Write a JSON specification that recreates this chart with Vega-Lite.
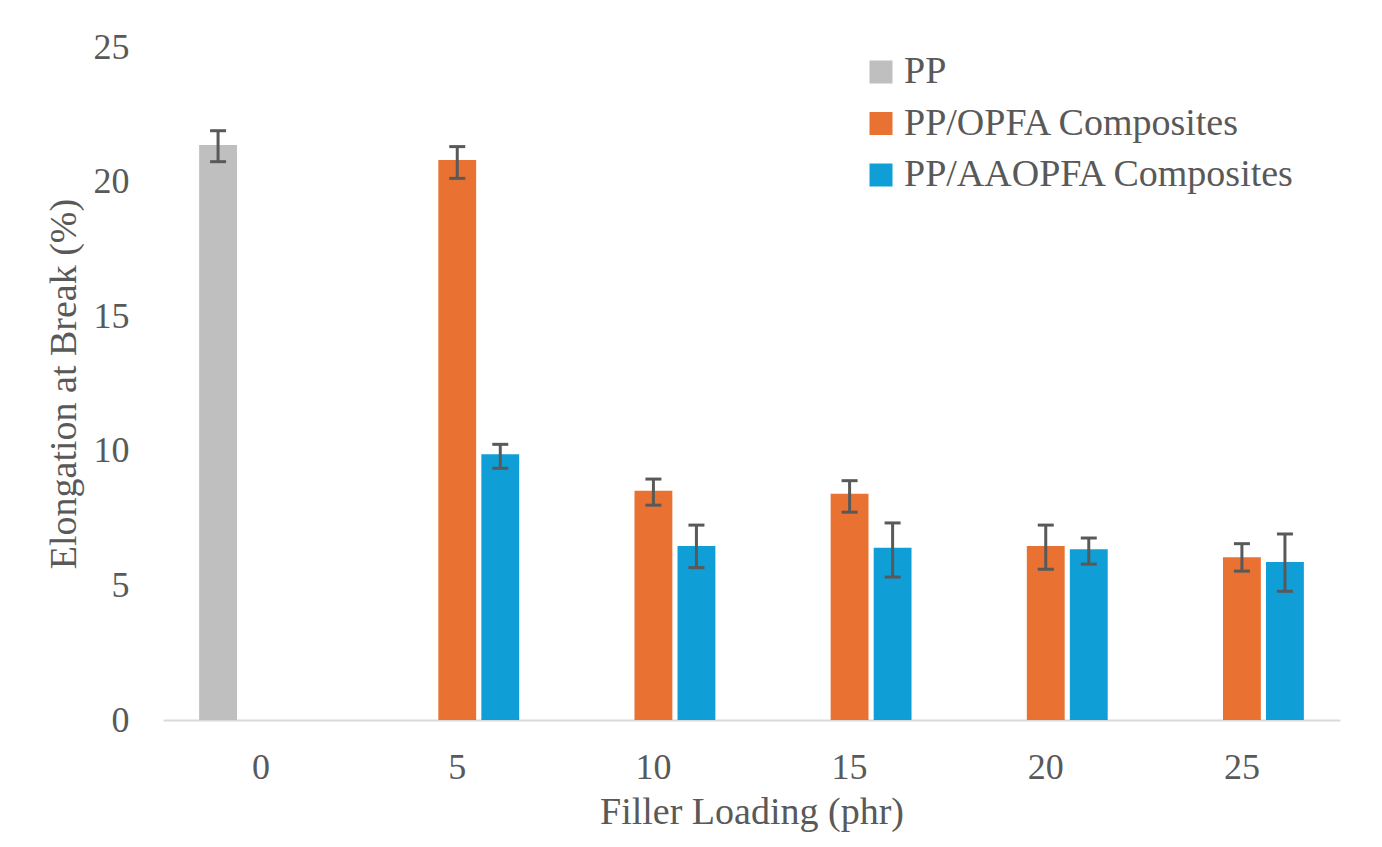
{
  "$schema": "https://vega.github.io/schema/vega-lite/v6.json",
  "width": 1177,
  "height": 673,
  "autosize": {"type": "none"},
  "padding": {"left": 163, "top": 47, "right": 42, "bottom": 127},
  "background": "white",
  "config": {
    "view": {"stroke": null},
    "font": "Liberation Serif",
    "axis": {"labelFont": "Liberation Serif", "titleFont": "Liberation Serif", "labelColor": "#595959", "titleColor": "#595959", "titleFontWeight": "normal"},
    "legend": {"labelFont": "Liberation Serif", "labelColor": "#595959"}
  },
  "data": {
    "values": [
      {"load": "0", "series": "PP", "value": 21.36, "low": 20.74, "high": 21.89},
      {"load": "5", "series": "PP/OPFA Composites", "value": 20.8, "low": 20.12, "high": 21.3},
      {"load": "5", "series": "PP/AAOPFA Composites", "value": 9.87, "low": 9.35, "high": 10.24},
      {"load": "10", "series": "PP/OPFA Composites", "value": 8.52, "low": 7.98, "high": 8.95},
      {"load": "10", "series": "PP/AAOPFA Composites", "value": 6.46, "low": 5.66, "high": 7.24},
      {"load": "15", "series": "PP/OPFA Composites", "value": 8.4, "low": 7.72, "high": 8.89},
      {"load": "15", "series": "PP/AAOPFA Composites", "value": 6.4, "low": 5.31, "high": 7.32},
      {"load": "20", "series": "PP/OPFA Composites", "value": 6.46, "low": 5.6, "high": 7.24},
      {"load": "20", "series": "PP/AAOPFA Composites", "value": 6.34, "low": 5.79, "high": 6.76},
      {"load": "25", "series": "PP/OPFA Composites", "value": 6.05, "low": 5.53, "high": 6.55},
      {"load": "25", "series": "PP/AAOPFA Composites", "value": 5.87, "low": 4.78, "high": 6.91}
    ]
  },
  "encoding": {
    "x": {
      "field": "load", "type": "nominal",
      "sort": ["0", "5", "10", "15", "20", "25"],
      "scale": {"domain": ["0", "5", "10", "15", "20", "25"], "paddingInner": 0, "paddingOuter": 0},
      "axis": {
        "title": "Filler Loading (phr)", "labelAngle": 0, "labelFontSize": 36, "titleFontSize": 38,
        "ticks": false, "domainColor": "#d9d9d9", "domainWidth": 2, "labelPadding": 30, "titlePadding": 8
      }
    },
    "xOffset": {
      "field": "series", "type": "nominal",
      "scale": {"domain": ["PP", "PP/OPFA Composites", "PP/AAOPFA Composites"], "paddingInner": 0.12, "paddingOuter": 0.84}
    }
  },
  "layer": [
    {
      "mark": {"type": "bar"},
      "encoding": {
        "y": {
          "field": "value", "type": "quantitative",
          "scale": {"domain": [0, 25], "nice": false},
          "axis": {
            "title": "Elongation at Break (%)", "values": [0, 5, 10, 15, 20, 25], "grid": false, "domain": false, "ticks": false,
            "labelFontSize": 36, "titleFontSize": 38, "labelPadding": 34, "titlePadding": 10
          }
        },
        "color": {
          "field": "series", "type": "nominal",
          "scale": {"domain": ["PP", "PP/OPFA Composites", "PP/AAOPFA Composites"], "range": ["#BFBFBF", "#E97132", "#0F9ED5"]},
          "legend": {
            "title": null, "orient": "none", "legendX": 699, "legendY": 6,
            "symbolType": "square", "symbolSize": 529, "symbolStrokeWidth": 0, "symbolOpacity": 1,
            "labelFontSize": 38, "labelOffset": 4, "rowPadding": 13.5, "labelLimit": 600
          }
        }
      }
    },
    {
      "mark": {"type": "rule", "color": "#595959", "strokeWidth": 3},
      "encoding": {
        "y": {"field": "low", "type": "quantitative"},
        "y2": {"field": "high"}
      }
    },
    {
      "mark": {"type": "tick", "color": "#595959", "thickness": 3, "size": 16, "opacity": 1},
      "encoding": {
        "y": {"field": "low", "type": "quantitative"}
      }
    },
    {
      "mark": {"type": "tick", "color": "#595959", "thickness": 3, "size": 16, "opacity": 1},
      "encoding": {
        "y": {"field": "high", "type": "quantitative"}
      }
    }
  ]
}
